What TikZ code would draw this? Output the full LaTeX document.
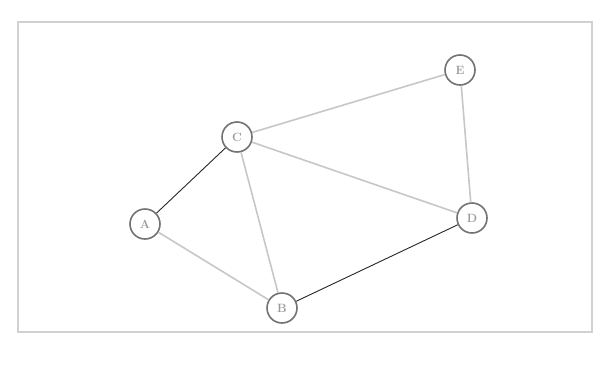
\documentclass[tikz,border=0pt]{standalone}
\begin{document}
\begin{tikzpicture}[x=1pt,y=-1pt,
  vert/.style={circle,draw=black!55,line width=1.6pt,minimum size=30pt,inner sep=0pt,font=\large\bfseries,text=black!40},
  darkedge/.style={draw=black!85,line width=0.9pt},
  lightedge/.style={draw=black!22,line width=1.6pt},
  frame/.style={draw=black!18,line width=1.2pt}]
\useasboundingbox (0,0) rectangle (601,364);
\draw[frame] (18,22) rectangle (592,332);
\node[vert] (A) at (145,224) {A};
\node[vert] (C) at (237,137) {C};
\node[vert] (E) at (460,70) {E};
\node[vert] (D) at (472,218) {D};
\node[vert] (B) at (282,308) {B};
\draw[darkedge] (A) -- (C);
\draw[darkedge] (B) -- (D);
\draw[lightedge] (C) -- (E);
\draw[lightedge] (E) -- (D);
\draw[lightedge] (C) -- (D);
\draw[lightedge] (C) -- (B);
\draw[lightedge] (A) -- (B);
\end{tikzpicture}
\end{document}
